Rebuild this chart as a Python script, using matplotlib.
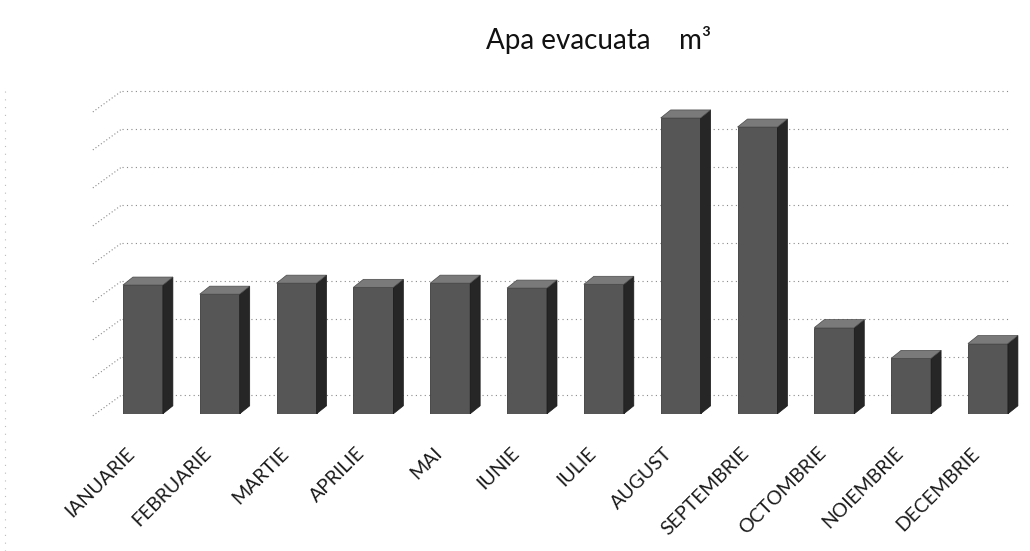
import matplotlib
matplotlib.use("Agg")
import matplotlib.pyplot as plt
import matplotlib.transforms as mtransforms
from matplotlib.patches import Polygon
from matplotlib.lines import Line2D
import numpy as np

# date (unitati arbitrare, nu apar valori pe axa)
luni = ["IANUARIE", "FEBRUARIE", "MARTIE", "APRILIE", "MAI", "IUNIE",
        "IULIE", "AUGUST", "SEPTEMBRIE", "OCTOMBRIE", "NOIEMBRIE", "DECEMBRIE"]
apa = [3390, 3150, 3440, 3330, 3440, 3310, 3410, 7790, 7550, 2270, 1460, 1850]
grid_vals = [0, 1000, 2000, 3000, 4000, 5000, 6000, 7000, 8000]

W, H, DPI = 10.3, 5.51, 100
fig = plt.figure(figsize=(W, H), dpi=DPI)
ax_left, ax_bottom, ax_w, ax_h = 0.094, 0.249, 0.895, 0.579
ax = fig.add_axes([ax_left, ax_bottom, ax_w, ax_h])
xlim = (-0.6, 11.4)
ylim = (0, 8400)
ax.set_xlim(*xlim)
ax.set_ylim(*ylim)
for s in ax.spines.values():
    s.set_visible(False)
ax.set_yticks([])

x = np.arange(len(luni))
ax.set_xticks(x)
ax.set_xticklabels(luni, rotation=45, ha='right', va='top', rotation_mode='anchor',
                   fontsize=14, family='Lato', color='#1a1a1a')
ax.tick_params(axis='x', length=0, pad=22)
shift = mtransforms.ScaledTranslation(-17 / DPI, 0, fig.dpi_scale_trans)
for lab in ax.get_xticklabels():
    lab.set_transform(lab.get_transform() + shift)

# pixeli pe unitate
px_x = ax_w * W * DPI / (xlim[1] - xlim[0])
px_y = ax_h * H * DPI / (ylim[1] - ylim[0])

# pereti (grila punctata)
wx, wy = 25 / px_x, 19 / px_y
for g in grid_vals:
    ax.plot([xlim[0] + wx, xlim[1] - 9 / px_x], [g + wy, g + wy], ls=(0, (1, 3)),
            color='#8a8a8a', lw=0.8, clip_on=False, zorder=1)
    ax.plot([xlim[0] - 4 / px_x, xlim[0] + wx], [g - 2 / px_y, g + wy], ls=(0, (1, 2)),
            color='#8a8a8a', lw=0.8, clip_on=False, zorder=1)

# bare 3D
bw = 0.52
dx, dy = 10 / px_x, 8 / px_y
ax.bar(x, apa, width=bw, color='#565656', edgecolor='#3a3a3a', lw=0.6, zorder=3)
for xi, v in zip(x, apa):
    l, r = xi - bw / 2, xi + bw / 2
    ax.add_patch(Polygon([(r, 0), (r + dx, dy), (r + dx, v + dy), (r, v)], closed=True,
                         fc='#262626', ec='#1a1a1a', lw=0.5, zorder=3))
    ax.add_patch(Polygon([(l, v), (l + dx, v + dy), (r + dx, v + dy), (r, v)], closed=True,
                         fc='#7a7a7a', ec='#4a4a4a', lw=0.5, zorder=3))

fig.text(0.581, 0.927, "Apa evacuata    m³", ha='center', va='center',
         fontsize=20, family='Lato', color='#111111')

fig.add_artist(Line2D([0.005, 0.005], [0.0, 0.84], ls=(0, (1, 6)), color='#bbbbbb', lw=0.8))

fig.savefig("out.png", dpi=DPI)
